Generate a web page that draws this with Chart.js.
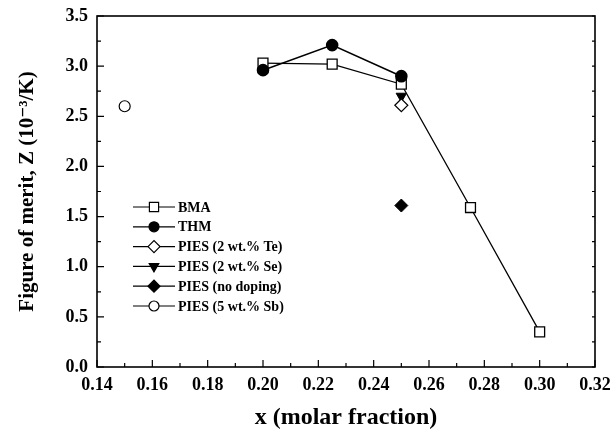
<!DOCTYPE html>
<html>
<head>
<meta charset="utf-8">
<script src="https://cdn.jsdelivr.net/npm/chart.js@4/dist/chart.umd.min.js"></script>
<style>
  html, body { margin: 0; padding: 0; background: #fff; }
  #wrap { width: 613px; height: 430px; }
</style>
</head>
<body>
<div id="wrap"><canvas id="chart" width="613" height="430"></canvas></div>
<script>
// ---- data ----
const bmaX = [0.20, 0.225, 0.25, 0.275, 0.30];
const bmaZ = [3.03, 3.02, 2.82, 1.59, 0.35];
const thmX = [0.20, 0.225, 0.25];
const thmZ = [2.96, 3.21, 2.90];
const piesTeX = [0.25];
const piesTeZ = [2.61];
const piesSeX = [0.25];
const piesSeZ = [2.70];
const piesNoDopX = [0.25];
const piesNoDopZ = [1.61];
const piesSbX = [0.15];
const piesSbZ = [2.60];

const xTicks = [0.14, 0.16, 0.18, 0.20, 0.22, 0.24, 0.26, 0.28, 0.30, 0.32];
const yTicks = [0.0, 0.5, 1.0, 1.5, 2.0, 2.5, 3.0, 3.5];

const FONT = '"Liberation Serif", "DejaVu Serif", serif';

function pts(xs, ys) {
    return xs.map((x, i) => ({ x: x, y: ys[i] }));
}

const datasets = [
    { label: 'BMA', data: pts(bmaX, bmaZ), showLine: true, pointStyle: 'rect', pointRadius: 7,
      backgroundColor: '#fff', borderColor: '#000', borderWidth: 1.3, pointBorderWidth: 1.3, order: 1 },
    { label: 'THM', data: pts(thmX, thmZ), showLine: true, pointStyle: 'circle', pointRadius: 5.5,
      backgroundColor: '#000', borderColor: '#000', borderWidth: 1.6, order: 0 },
    { label: 'PIES (2 wt.% Te)', data: pts(piesTeX, piesTeZ), pointStyle: 'rectRot', pointRadius: 6.5,
      backgroundColor: '#fff', borderColor: '#000', pointBorderWidth: 1.2 },
    { label: 'PIES (2 wt.% Se)', data: pts(piesSeX, piesSeZ), pointStyle: 'triangle', pointRotation: 180, pointRadius: 6,
      backgroundColor: '#000', borderColor: '#000' },
    { label: 'PIES (no doping)', data: pts(piesNoDopX, piesNoDopZ), pointStyle: 'rectRot', pointRadius: 6.5,
      backgroundColor: '#000', borderColor: '#000' },
    { label: 'PIES (5 wt.% Sb)', data: pts(piesSbX, piesSbZ), pointStyle: 'circle', pointRadius: 5.5,
      backgroundColor: '#fff', borderColor: '#000', pointBorderWidth: 1.2 }
];

// inward major/minor ticks plus the legend box inside the plot
const innerTicks = {
    id: 'innerTicks',
    afterDraw(chart) {
        const ctx = chart.ctx;
        const xs = chart.scales.x, ys = chart.scales.y;
        const a = chart.chartArea;
        ctx.save();
        ctx.strokeStyle = '#000';
        ctx.lineWidth = 1.2;
        ctx.beginPath();
        for (let v = 0.14; v <= 0.3201; v += 0.01) {
            const px = xs.getPixelForValue(v);
            const major = Math.round(v * 100) % 2 === 0;
            const len = major ? 7 : 4;
            ctx.moveTo(px, a.bottom); ctx.lineTo(px, a.bottom - len);
        }
        for (let v = 0; v <= 3.5001; v += 0.25) {
            const py = ys.getPixelForValue(v);
            const major = Math.round(v * 4) % 2 === 0;
            const len = major ? 7 : 4;
            ctx.moveTo(a.left, py); ctx.lineTo(a.left + len, py);
            ctx.moveTo(a.right, py); ctx.lineTo(a.right - 3, py);
        }
        ctx.stroke();
        ctx.lineWidth = 1.6;
        ctx.strokeRect(a.left, a.top, a.right - a.left, a.bottom - a.top);

        // legend
        const lx = a.left + 36, ly = a.top + 191, gap = 19.8;
        ctx.font = 'bold 14px ' + FONT;
        ctx.textBaseline = 'middle';
        ctx.textAlign = 'left';
        chart.data.datasets.forEach((ds, i) => {
            const y = ly + i * gap;
            ctx.strokeStyle = '#000';
            ctx.lineWidth = 1.2;
            ctx.beginPath();
            ctx.moveTo(lx, y); ctx.lineTo(lx + 42, y);
            ctx.stroke();
            ctx.fillStyle = ds.backgroundColor;
            ctx.strokeStyle = '#000';
            ctx.lineWidth = 1.2;
            Chart.helpers.drawPoint(ctx, {
                pointStyle: ds.pointStyle,
                rotation: ds.pointRotation || 0,
                radius: ds.pointRadius - 0.5,
                borderWidth: 1.2
            }, lx + 21, y);
            ctx.fillStyle = '#000';
            ctx.fillText(ds.label, lx + 45, y + 1);
        });
        ctx.restore();
    }
};

new Chart(document.getElementById('chart'), {
    type: 'scatter',
    data: { datasets: datasets },
    options: {
        responsive: false,
        animation: false,
        layout: { padding: { top: 16, right: 18, left: 0, bottom: 0 } },
        plugins: { legend: { display: false }, tooltip: { enabled: false } },
        elements: { line: { tension: 0 } },
        scales: {
            x: {
                type: 'linear', min: 0.14, max: 0.32,
                afterBuildTicks: s => { s.ticks = xTicks.map(v => ({ value: v })); },
                afterFit: s => { s.height = 63; s.paddingLeft = 0; s.paddingRight = 0; },
                grid: { display: false, drawTicks: false },
                border: { display: false },
                ticks: { color: '#000', padding: 8, font: { family: FONT, size: 18, weight: 'bold' },
                         callback: v => v.toFixed(2) },
                title: { display: true, text: 'x (molar fraction)', color: '#000',
                         font: { family: FONT, size: 24, weight: 'bold', lineHeight: 1.05 },
                         padding: { top: 0, bottom: 0 } }
            },
            y: {
                type: 'linear', min: 0, max: 3.5,
                afterBuildTicks: s => { s.ticks = yTicks.map(v => ({ value: v })); },
                afterFit: s => { s.width = 97; s.paddingTop = 0; s.paddingBottom = 0; },
                grid: { display: false, drawTicks: false },
                border: { display: false },
                ticks: { color: '#000', padding: 9, font: { family: FONT, size: 18, weight: 'bold' },
                         callback: v => v.toFixed(1) },
                title: { display: true, text: 'Figure of merit, Z (10\u207B\u00B3/K)', color: '#000',
                         font: { family: FONT, size: 21, weight: 'bold' }, padding: { top: 15, bottom: 0 } }
            }
        }
    },
    plugins: [innerTicks]
});
</script>
</body>
</html>
